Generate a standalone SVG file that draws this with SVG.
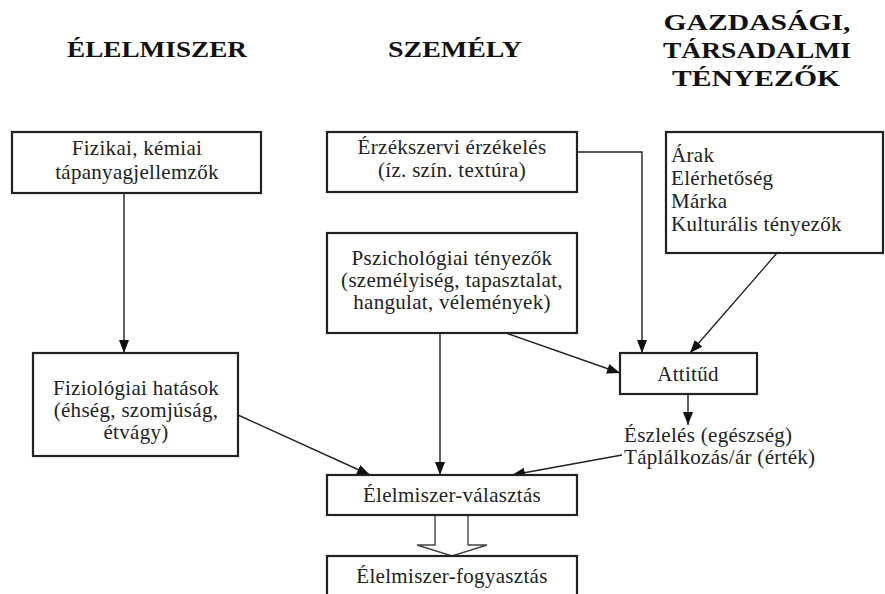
<svg xmlns="http://www.w3.org/2000/svg" width="885" height="594" viewBox="0 0 885 594">
<defs>
<marker id="ah" viewBox="0 0 13 10" refX="13" refY="5" markerWidth="13" markerHeight="10" markerUnits="userSpaceOnUse" orient="auto">
<path d="M0,0 L13,5 L0,10 Z" fill="#111"/>
</marker>
</defs>
<style>
.box{fill:#fff;stroke:#222;stroke-width:2.2}
.t{font-family:"Liberation Serif","Times New Roman",serif;font-size:21px;letter-spacing:0.3px;fill:#222}
.c{text-anchor:middle}
.h{font-family:"Liberation Serif","Times New Roman",serif;font-size:24px;font-weight:bold;fill:#111;text-anchor:middle}
.ln{fill:none;stroke:#222;stroke-width:1.4}
</style>
<rect width="885" height="594" fill="#fff"/>
<g id="headings">
<text class="h" x="157" y="57" textLength="180" lengthAdjust="spacingAndGlyphs">ÉLELMISZER</text>
<text class="h" x="455" y="57" textLength="134" lengthAdjust="spacingAndGlyphs">SZEMÉLY</text>
<text class="h" x="757" y="30" textLength="187" lengthAdjust="spacingAndGlyphs">GAZDASÁGI,</text>
<text class="h" x="757" y="58" textLength="188" lengthAdjust="spacingAndGlyphs">TÁRSADALMI</text>
<text class="h" x="756" y="86" textLength="168" lengthAdjust="spacingAndGlyphs">TÉNYEZŐK</text>
</g>
<g id="connectors">
<line class="ln" x1="124" y1="193" x2="124" y2="353" marker-end="url(#ah)"/>
<polyline class="ln" points="577,152 642,152 642,353" marker-end="url(#ah)"/>
<line class="ln" x1="777" y1="253" x2="690" y2="353" marker-end="url(#ah)"/>
<line class="ln" x1="506" y1="333" x2="620" y2="373" marker-end="url(#ah)"/>
<line class="ln" x1="440" y1="333" x2="440" y2="475" marker-end="url(#ah)"/>
<line class="ln" x1="238" y1="415" x2="370" y2="475" marker-end="url(#ah)"/>
<line class="ln" x1="688" y1="394" x2="688" y2="425" marker-end="url(#ah)"/>
<line class="ln" x1="622" y1="455" x2="512" y2="475" marker-end="url(#ah)"/>
<path d="M435,515 L435,545 L417,545 L452,556 L487,545 L468,545 L468,515" fill="#fff" stroke="#444" stroke-width="1.4"/>
</g>
<g id="n-fizikai">
<rect class="box" x="12" y="132" width="249" height="61"/>
<text class="t c" x="137" y="155">Fizikai, kémiai</text>
<text class="t c" x="137" y="179">tápanyagjellemzők</text>
</g>
<g id="n-erzek">
<rect class="box" x="327" y="132" width="250" height="60"/>
<text class="t c" x="452" y="154">Érzékszervi érzékelés</text>
<text class="t c" x="452" y="177">(íz. szín. textúra)</text>
</g>
<g id="n-arak">
<rect class="box" x="666" y="132" width="217" height="121"/>
<text class="t" x="671" y="162">Árak</text>
<text class="t" x="671" y="185">Elérhetőség</text>
<text class="t" x="671" y="208">Márka</text>
<text class="t" x="671" y="231">Kulturális tényezők</text>
</g>
<g id="n-pszich">
<rect class="box" x="327" y="233" width="250" height="100"/>
<text class="t c" x="452" y="265">Pszichológiai tényezők</text>
<text class="t c" x="452" y="287">(személyiség, tapasztalat,</text>
<text class="t c" x="452" y="309">hangulat, vélemények)</text>
</g>
<g id="n-fiziol">
<rect class="box" x="33" y="353" width="205" height="103"/>
<text class="t c" x="136" y="395">Fiziológiai hatások</text>
<text class="t c" x="136" y="417">(éhség, szomjúság,</text>
<text class="t c" x="136" y="439">étvágy)</text>
</g>
<g id="n-attitud">
<rect class="box" x="620" y="353" width="137" height="41"/>
<text class="t c" x="688" y="381">Attitűd</text>
</g>
<g id="n-eszleles">
<text class="t" x="624" y="442">Észlelés (egészség)</text>
<text class="t" x="624" y="464">Táplálkozás/ár (érték)</text>
</g>
<g id="n-valasztas">
<rect class="box" x="327" y="475" width="250" height="40"/>
<text class="t c" x="452" y="502">Élelmiszer-választás</text>
</g>
<g id="n-fogyasztas">
<rect class="box" x="327" y="556" width="250" height="45"/>
<text class="t c" x="452" y="583">Élelmiszer-fogyasztás</text>
</g>
</svg>
